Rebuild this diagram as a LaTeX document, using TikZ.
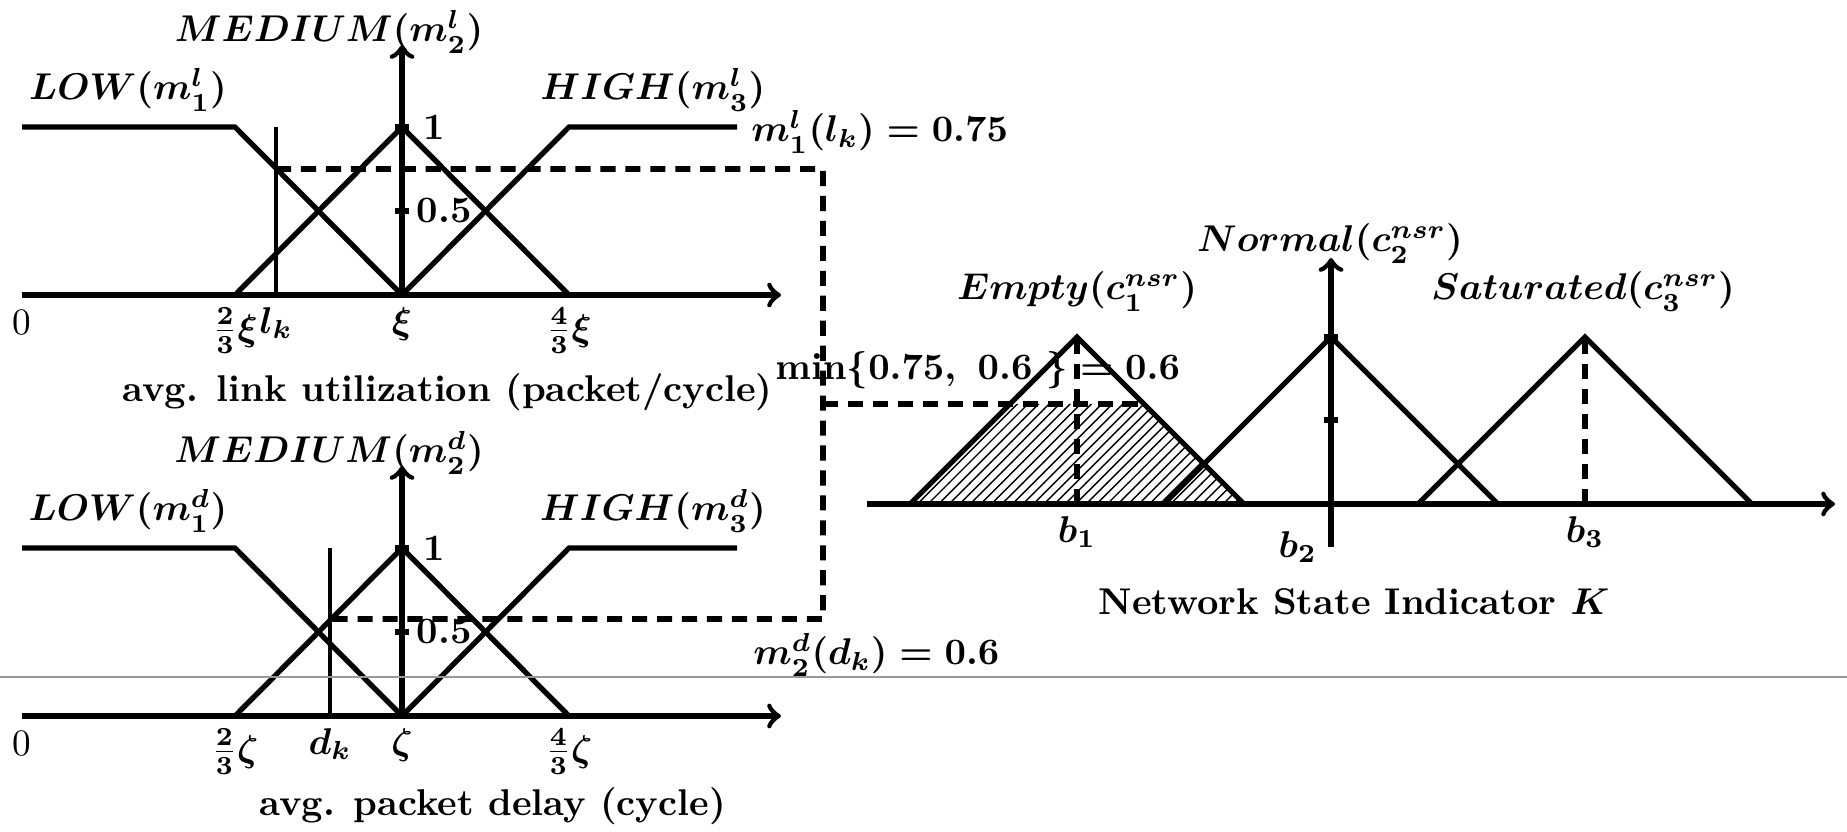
\RequirePackage{fix-cm}
\documentclass[tikz,border=0pt]{standalone}
\usepackage{amsmath, amssymb}
\usepackage{tikz}
\usetikzlibrary{patterns, arrows}

\begin{document}
\begin{tikzpicture}[font=\fontsize{10.6}{12.7}\selectfont\bfseries\boldmath,
    axis/.style={->, line width=1.5pt},
    mf/.style={line width=1.5pt},
    tick/.style={line width=1.5pt},
    guide/.style={line width=1.6pt, dash pattern=on 4.3pt off 2.8pt},
    sample/.style={line width=0.9pt}]
    \useasboundingbox (0,0) rectangle (18.47,8.31);

    % Upper plot: link utilization
    \begin{scope}[shift={(0.22,5.36)}]
        \draw[axis] (0,0) node[below, font=\fontsize{10.6}{12.7}\selectfont\normalfont] (zl) {0} -- (7.59,0);
        \draw[axis] (3.80,0) -- (3.80,2.50);
        \node[anchor=base] (medl) at (3.07,2.53) {$MEDIUM(m_2^l)$};
        \node[anchor=base] (lowl) at (1.06,1.95) {$LOW(m_1^l)$};
        \node[anchor=base] (highl) at (6.31,1.95) {$HIGH(m_3^l)$};
        % membership functions
        \draw[mf] (0,1.68) -- (2.13,1.68) -- (3.80,0);
        \draw[mf] (2.13,0) -- (3.80,1.68) -- (5.47,0);
        \draw[mf] (3.80,0) -- (5.47,1.68) -- (7.15,1.68);
        \draw[tick] (3.73,1.68) -- (3.87,1.68) node[right] (onel) {1};
        \draw[tick] (3.73,0.84) -- (3.87,0.84) node[right, inner sep=1.5pt] (halfl) {0.5};
        % sample value
        \draw[sample] (2.54,0) -- (2.54,1.68);
        \node[below] (al) at (2.13,0) {$\frac{2}{3}\xi$};
        \node[below] (lk) at (2.54,0) {$l_k$};
        \node[below] (bl) at (3.80,0) {$\xi$};
        \node[below] (cl) at (5.47,0) {$\frac{4}{3}\xi$};
        \node[anchor=base west] (titl) at (0.88,-1.07) {avg. link utilization (packet/cycle)};
        \coordinate (cutl) at (2.54,1.26);
    \end{scope}

    % Lower plot: packet delay
    \begin{scope}[shift={(0.22,1.15)}]
        \draw[axis] (0,0) node[below, font=\fontsize{10.6}{12.7}\selectfont\normalfont] (zd) {0} -- (7.59,0);
        \draw[axis] (3.80,0) -- (3.80,2.50);
        \node[anchor=base] (medd) at (3.07,2.53) {$MEDIUM(m_2^d)$};
        \node[anchor=base] (lowd) at (1.06,1.95) {$LOW(m_1^d)$};
        \node[anchor=base] (highd) at (6.31,1.95) {$HIGH(m_3^d)$};
        % membership functions
        \draw[mf] (0,1.68) -- (2.13,1.68) -- (3.80,0);
        \draw[mf] (2.13,0) -- (3.80,1.68) -- (5.47,0);
        \draw[mf] (3.80,0) -- (5.47,1.68) -- (7.15,1.68);
        \draw[tick] (3.73,1.68) -- (3.87,1.68) node[right] (oned) {1};
        \draw[tick] (3.73,0.84) -- (3.87,0.84) node[right, inner sep=1.5pt] (halfd) {0.5};
        % sample value
        \draw[sample] (3.08,0) -- (3.08,1.68);
        \node[below] (ad) at (2.13,0) {$\frac{2}{3}\zeta$};
        \node[below] (dk) at (3.08,0) {$d_k$};
        \node[below] (bd) at (3.80,0) {$\zeta$};
        \node[below] (cd) at (5.47,0) {$\frac{4}{3}\zeta$};
        \node[anchor=base west] (titd) at (2.25,-0.99) {avg. packet delay (cycle)};
        \coordinate (cutd) at (3.08,0.97);
    \end{scope}

    % Page rule
    \draw[gray!80, line width=0.5pt] (0,1.54) -- (18.47,1.54);

    % Right plot: network state indicator
    \fill[pattern=north east lines] (9.10,3.27) -- (10.10,4.27) -- (11.44,4.27) -- (12.44,3.27) -- cycle;
    \draw[axis] (8.67,3.27) -- (18.35,3.27);
    \draw[axis] (13.31,2.84) node[left] (btwo) {$b_2$} -- (13.31,5.73);
    \draw[mf] (9.10,3.27) -- (10.77,4.94) -- (12.44,3.27);
    \draw[mf] (11.64,3.27) -- (13.31,4.94) -- (14.98,3.27);
    \draw[mf] (14.18,3.27) -- (15.85,4.94) -- (17.52,3.27);
    \draw[tick] (13.24,4.94) -- (13.38,4.94);
    \draw[tick] (13.24,4.11) -- (13.38,4.11);
    \draw[guide] (10.77,3.27) -- (10.77,4.94);
    \draw[guide] (15.85,3.27) -- (15.85,4.94);
    \node[below] (bone) at (10.77,3.27) {$b_1$};
    \node[below] (bthree) at (15.85,3.27) {$b_3$};
    \node[anchor=base] (empty) at (10.77,5.31) {$Empty(c_1^{nsr})$};
    \node[anchor=base] (normal) at (13.30,5.79) {$Normal(c_2^{nsr})$};
    \node[anchor=base] (satur) at (15.83,5.31) {$Saturated(c_3^{nsr})$};
    \node[anchor=base] (titk) at (13.54,2.16) {Network State Indicator $K$};

    % Min of the two memberships
    \coordinate (turn) at (8.23,6.62);
    \coordinate (turnd) at (8.23,2.12);
    \coordinate (mid) at (8.23,4.27);
    \coordinate (cutk) at (11.44,4.27);
    \draw[guide] (cutl) -- (turn) -- (turnd) -- (cutd);
    \draw[guide] (mid) -- (cutk);
    \node[anchor=base west] (ml) at (7.39,6.89) {$m_1^l(l_k) = 0.75$};
    \node[anchor=base west] (md) at (7.41,1.66) {$m_2^d(d_k) = 0.6$};
    \node[anchor=base west] (minv) at (7.63,4.51) {$\min\{0.75,\ 0.6\ \} = 0.6$};
\end{tikzpicture}
\end{document}
